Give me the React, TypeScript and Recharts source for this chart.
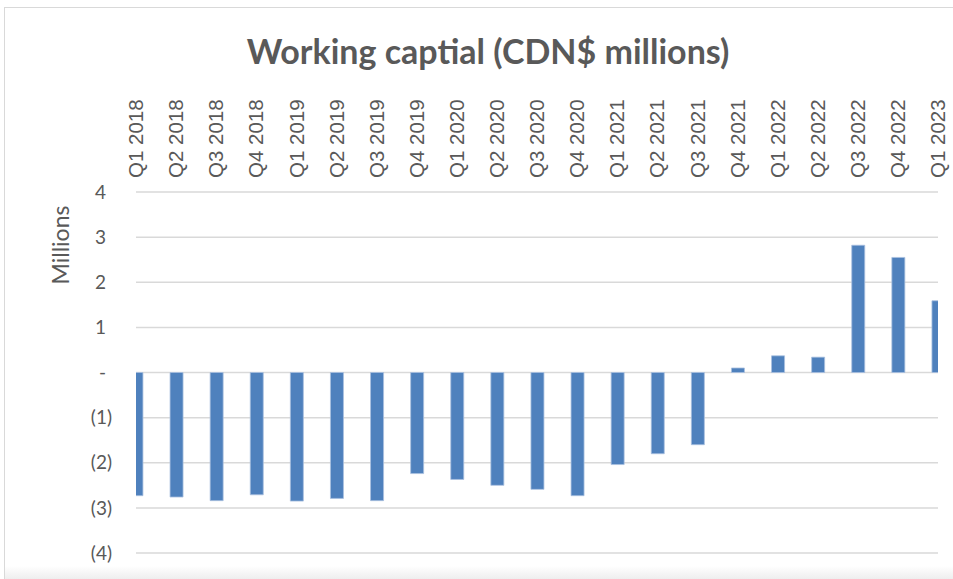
import React from "react";
import { BarChart, Bar, XAxis, YAxis, CartesianGrid } from "recharts";

const QUARTERS = [
  "Q1 2018", "Q2 2018", "Q3 2018", "Q4 2018",
  "Q1 2019", "Q2 2019", "Q3 2019", "Q4 2019",
  "Q1 2020", "Q2 2020", "Q3 2020", "Q4 2020",
  "Q1 2021", "Q2 2021", "Q3 2021", "Q4 2021",
  "Q1 2022", "Q2 2022", "Q3 2022", "Q4 2022",
  "Q1 2023",
];

// working capital, CDN$ millions
const WORKING_CAPITAL = [
  -2.73, -2.76, -2.84, -2.71,
  -2.85, -2.79, -2.84, -2.24,
  -2.37, -2.5, -2.59, -2.73,
  -2.04, -1.8, -1.6, 0.1,
  0.37, 0.34, 2.82, 2.55,
  1.59,
];

const Y_TICKS = [-4, -3, -2, -1, 0, 1, 2, 3, 4];

const data = QUARTERS.map((q, i) => ({ idx: i, quarter: q, value: WORKING_CAPITAL[i] }));

const GREY = "#595959";

function QuarterTick(props: any) {
  const { x, payload } = props;
  const label = QUARTERS[payload.value] ?? "";
  return (
    <text
      x={x}
      y={178}
      transform={`rotate(-90, ${x}, 178)`}
      textAnchor="start"
      dy="0.35em"
      fontSize={20.5}
      fontFamily="Liberation Sans, Arial, sans-serif"
      fill={GREY}
    >
      {label}
    </text>
  );
}

function MillionsTick(props: any) {
  const { y, payload } = props;
  const v = payload.value as number;
  const label = v === 0 ? "-" : v < 0 ? `(${Math.abs(v)})` : String(v);
  const right = v < 0 ? 112 : 106;
  return (
    <text
      x={right}
      y={y}
      dy="0.35em"
      textAnchor="end"
      fontSize={19}
      fontFamily="Lato, Open Sans, sans-serif"
      fill={GREY}
    >
      {label}
    </text>
  );
}

export default function App() {
  return (
    <div style={{ position: "absolute", left: 0, top: 0, width: 953, height: 579, background: "#fff", overflow: "hidden" }}>
      <div
        style={{
          position: "absolute",
          left: 4,
          top: 7,
          width: 960,
          height: 600,
          borderLeft: "1.5px solid #d9d9d9",
          borderTop: "1.5px solid #d9d9d9",
        }}
      />
      <div
        style={{
          position: "absolute",
          left: 5,
          top: 566,
          width: 960,
          height: 13,
          background: "linear-gradient(#ffffff, #eeeeee)",
        }}
      />
      <div
        style={{
          position: "absolute",
          left: 0,
          top: 29,
          width: 976,
          textAlign: "center",
          fontFamily: "Lato, Open Sans, sans-serif",
          fontWeight: 700,
          fontSize: 34,
          lineHeight: "44px",
          color: GREY,
        }}
      >
        Working captial (CDN$ millions)
      </div>
      <div
        style={{
          position: "absolute",
          left: 60,
          top: 245,
          transform: "translate(-50%, -50%) rotate(-90deg)",
          fontFamily: "Lato, Open Sans, sans-serif",
          fontSize: 23,
          color: GREY,
          whiteSpace: "nowrap",
        }}
      >
        Millions
      </div>
      <div style={{ position: "absolute", left: 0, top: 0 }}>
        <BarChart
          width={953}
          height={579}
          data={data}
          margin={{ top: 0, right: 15, bottom: 26, left: 0 }}
        >
          <CartesianGrid horizontal vertical={false} stroke="#d9d9d9" strokeWidth={1.5} />
          <XAxis
            xAxisId={0}
            dataKey="idx"
            type="number"
            orientation="top"
            domain={[0, 20]}
            ticks={QUARTERS.map((_, i) => i)}
            interval={0}
            allowDataOverflow
            height={192}
            axisLine={false}
            tickLine={false}
            tick={<QuarterTick />}
          />
          <YAxis
            type="number"
            domain={[-4, 4]}
            ticks={Y_TICKS}
            interval={0}
            width={136}
            axisLine={false}
            tickLine={false}
            tick={<MillionsTick />}
          />
          <Bar
            dataKey="value"
            fill="#4f81bd"
            stroke="#a9c0df"
            strokeWidth={0.8}
            barSize={13}
            isAnimationActive={false}
          />
        </BarChart>
      </div>
    </div>
  );
}
